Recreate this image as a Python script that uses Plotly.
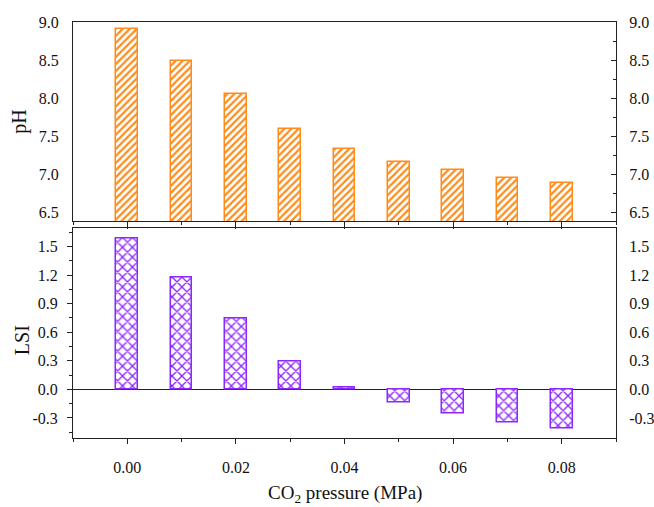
import plotly.graph_objects as go

pressure = [0.00, 0.01, 0.02, 0.03, 0.04, 0.05, 0.06, 0.07, 0.08]
ph = [8.91, 8.49, 8.05, 7.60, 7.33, 7.17, 7.06, 6.96, 6.89]
lsi = [1.58, 1.17, 0.74, 0.29, 0.02, -0.14, -0.25, -0.35, -0.41]

x_ticks = [0.00, 0.02, 0.04, 0.06, 0.08]
x_ticktext = ["0.00", "0.02", "0.04", "0.06", "0.08"]
ph_ticks = [6.5, 7.0, 7.5, 8.0, 8.5, 9.0]
ph_ticktext = ["6.5", "7.0", "7.5", "8.0", "8.5", "9.0"]
lsi_ticks = [-0.3, 0.0, 0.3, 0.6, 0.9, 1.2, 1.5]
lsi_ticktext = ["-0.3", "0.0", "0.3", "0.6", "0.9", "1.2", "1.5"]

ORANGE = "rgb(255,140,26)"
PURPLE = "rgb(140,40,255)"
FONT = "Liberation Serif"
AX = "#222"
TXT = "#111"

fig = go.Figure()
fig.add_trace(go.Bar(
    x=pressure, y=ph, width=0.004, xaxis="x", yaxis="y",
    marker=dict(color="white", line=dict(color=ORANGE, width=1.5),
                pattern=dict(shape="/", fgcolor=ORANGE, bgcolor="white", size=5, solidity=0.45)),
    showlegend=False))
fig.add_trace(go.Bar(
    x=pressure, y=lsi, width=0.004, xaxis="x2", yaxis="y2",
    marker=dict(color="white", line=dict(color=PURPLE, width=1.5),
                pattern=dict(shape="x", fgcolor=PURPLE, bgcolor="white", size=7, solidity=0.35)),
    showlegend=False))
# invisible companions so the right-hand axes are drawn
fig.add_trace(go.Scatter(x=pressure, y=ph, xaxis="x", yaxis="y3", mode="markers",
                         marker=dict(opacity=0), hoverinfo="skip", showlegend=False))
fig.add_trace(go.Scatter(x=pressure, y=lsi, xaxis="x2", yaxis="y4", mode="markers",
                         marker=dict(opacity=0), hoverinfo="skip", showlegend=False))

xr = [-0.01, 0.09]
ph_range = [6.39, 9.0]
lsi_range = [-0.51, 1.70]
tickfont = dict(family=FONT, size=16, color=TXT)
common = dict(showgrid=False, zeroline=False, showline=True, linecolor=AX, linewidth=1,
              automargin=False)

fig.update_layout(
    template="none",
    width=654, height=507,
    margin=dict(l=73, r=38, t=22, b=69),
    paper_bgcolor="white", plot_bgcolor="white",
    font=dict(family=FONT, size=16, color=TXT),
    bargap=0,
    xaxis=dict(domain=[0, 1], anchor="y", range=xr, mirror=True,
               ticks="outside", ticklen=7, tickcolor=AX, tickvals=x_ticks, showticklabels=False,
               minor=dict(ticks="outside", ticklen=3, dtick=0.01, tick0=0, tickcolor=AX, showgrid=False),
               **common),
    yaxis=dict(domain=[0.5216, 1], anchor="x", range=ph_range,
               ticks="", tickvals=ph_ticks, ticktext=ph_ticktext, tickfont=tickfont,
               ticklabelstandoff=10, **common),
    yaxis3=dict(overlaying="y", anchor="x", side="right", range=ph_range,
                ticks="inside", ticklen=5, tickcolor=AX, tickvals=ph_ticks, ticktext=ph_ticktext,
                tickfont=tickfont, ticklabelstandoff=9,
                minor=dict(ticks="inside", ticklen=3, dtick=0.25, tick0=6.5, tickcolor=AX, showgrid=False),
                **common),
    xaxis2=dict(domain=[0, 1], anchor="y2", range=xr, mirror=True,
                ticks="outside", ticklen=5, tickcolor=AX, tickvals=x_ticks, ticktext=x_ticktext,
                tickfont=tickfont, ticklabelstandoff=10,
                minor=dict(ticks="outside", ticklen=3, dtick=0.01, tick0=0, tickcolor=AX, showgrid=False),
                **common),
    yaxis2=dict(domain=[0, 0.506], anchor="x2", range=lsi_range, showgrid=False,
                zeroline=True, zerolinecolor=AX, zerolinewidth=1,
                showline=True, linecolor=AX, linewidth=1, automargin=False,
                ticks="outside", ticklen=5, tickcolor=AX, tickvals=lsi_ticks, ticktext=lsi_ticktext,
                tickfont=tickfont, ticklabelstandoff=6,
                minor=dict(ticks="outside", ticklen=3, dtick=0.15, tick0=0, tickcolor=AX, showgrid=False)),
    yaxis4=dict(overlaying="y2", anchor="x2", side="right", range=lsi_range,
                ticks="", tickvals=lsi_ticks, ticktext=lsi_ticktext, tickfont=tickfont,
                ticklabelstandoff=9, **common),
    annotations=[
        dict(text="pH", xref="paper", yref="paper", x=-0.098, y=0.76, textangle=-90,
             showarrow=False, font=dict(family=FONT, size=20, color=TXT), xanchor="center", yanchor="middle"),
        dict(text="LSI", xref="paper", yref="paper", x=-0.094, y=0.235, textangle=-90,
             showarrow=False, font=dict(family=FONT, size=20, color=TXT), xanchor="center", yanchor="middle"),
        dict(text="CO<sub>2</sub> pressure (MPa)", xref="paper", yref="paper", x=0.5, y=-0.135,
             showarrow=False, font=dict(family=FONT, size=19, color=TXT), xanchor="center", yanchor="middle"),
    ],
)

fig.write_html("out.html", config={"displayModeBar": False},
               post_script="document.body.style.margin='0';document.body.style.overflow='hidden';")
